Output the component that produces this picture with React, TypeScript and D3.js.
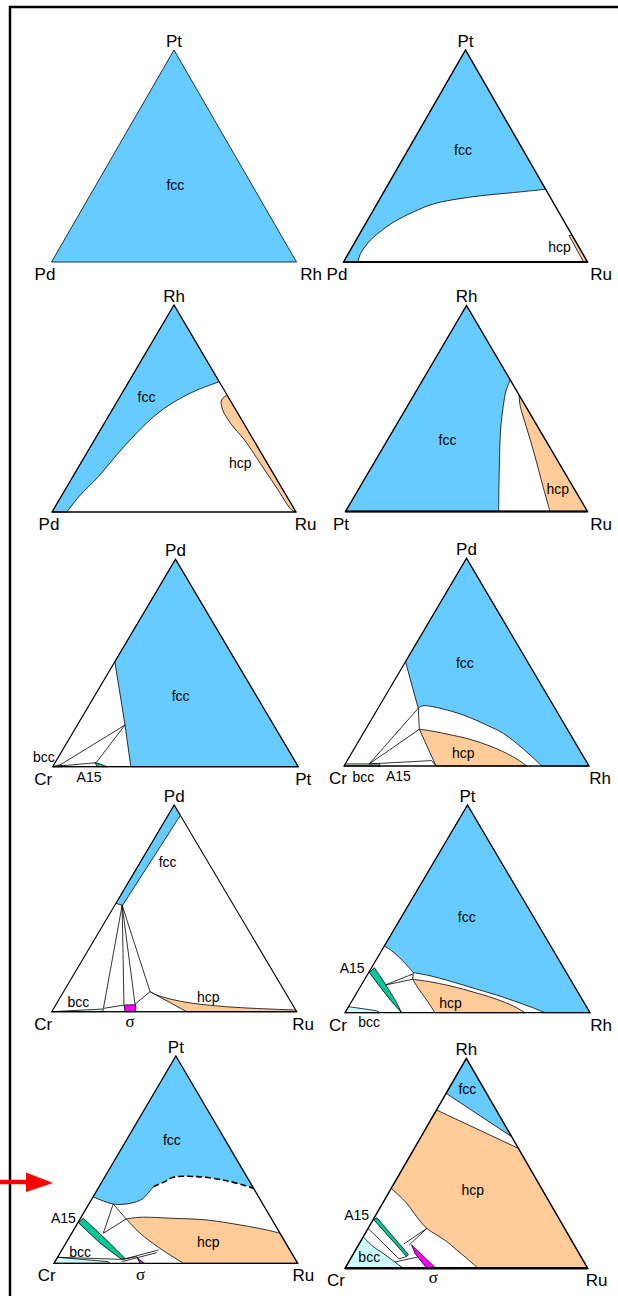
import React from "react";
import * as d3 from "d3";

// compositions are [top fraction, right fraction]; left = 1 - top - right
type TP = [number, number];
type Part = [TP[], boolean];

const FCC = "#66ccff";
const HCP = "#ffcc99";
const A15C = "#00c896";
const BCC = "#ccffff";
const SIGMA = "#ff00ff";

// vertex elements of the ten ternary sections
const topEl = ["Pt", "Pt", "Rh", "Rh", "Pd", "Pd", "Pd", "Pt", "Pt", "Rh"];
const leftEl = ["Pd", "Pd", "Pd", "Pt", "Cr", "Cr", "Cr", "Cr", "Cr", "Cr"];
const rightEl = ["Rh", "Ru", "Ru", "Ru", "Pt", "Rh", "Ru", "Rh", "Ru", "Ru"];

const tri: TP[] = [[1, 0], [0, 0], [0, 1]];

// Pd-Pt-Rh
const p1Labels: [string, TP][] = [["fcc", [0.363, 0.324]]];

// Pd-Pt-Ru
const p2FccEdge: TP[] = [[0, 0.059], [0.041, 0.05], [0.104, 0.059], [0.151, 0.084], [0.19, 0.113], [0.237, 0.17], [0.274, 0.232], [0.308, 0.377], [0.327, 0.529], [0.343, 0.657]];
const p2Hcp: TP[] = [[0.125, 0.862], [0.128, 0.872], [0, 1], [0, 0.984]];
const p2Labels: [string, TP][] = [["fcc", [0.528, 0.226]], ["hcp", [0.069, 0.851]]];

// Pd-Rh-Ru
const p3FccEdge: TP[] = [[0, 0.061], [0.074, 0.073], [0.171, 0.105], [0.284, 0.129], [0.388, 0.158], [0.477, 0.195], [0.541, 0.243], [0.589, 0.3], [0.629, 0.371]];
const p3HcpEdge: TP[] = [[0.565, 0.435], [0.541, 0.424], [0.493, 0.453], [0.428, 0.518], [0.348, 0.615], [0.235, 0.736], [0.122, 0.857], [0.01, 0.977], [0, 1]];
const p3Labels: [string, TP][] = [["fcc", [0.557, 0.109]], ["hcp", [0.238, 0.653]]];

// Pt-Rh-Ru
const p4FccEdge: TP[] = [[0, 0.633], [0.153, 0.558], [0.396, 0.443], [0.509, 0.397], [0.59, 0.369], [0.638, 0.362]];
const p4HcpEdge: TP[] = [[0.566, 0.434], [0.509, 0.468], [0.412, 0.541], [0.283, 0.638], [0.137, 0.744], [0, 0.845]];
const p4Labels: [string, TP][] = [["fcc", [0.347, 0.248]], ["hcp", [0.108, 0.823]]];

// Cr-Pd-Pt
const p5Fcc: TP[] = [[1, 0], [0, 1], [0, 0.318], [0.201, 0.194], [0.506, 0]];
const p5A15: TP[] = [[0.019, 0.163], [0.012, 0.19], [0, 0.22], [0, 0.182]];
const p5Bcc: TP[] = [[0, 0], [0.008, 0.018], [0.006, 0.035], [0, 0.04]];
const p5Ties: TP[][] = [[[0.201, 0.194], [0.003, 0.021]], [[0.201, 0.194], [0.019, 0.167]], [[0.003, 0.021], [0.019, 0.167]]];
const p5Labels: [string, TP][] = [["fcc", [0.338, 0.352]], ["bcc", [0.047, -0.059]], ["A15", [-0.05, 0.173]]];

// Cr-Pd-Rh
const p6FccEdge: TP[] = [[0, 0.807], [0.053, 0.733], [0.109, 0.65], [0.157, 0.572], [0.197, 0.484], [0.2455, 0.364], [0.278, 0.253], [0.29, 0.192], [0.289, 0.173], [0.278, 0.164]];
const p6HcpTop: TP[] = [[0.177, 0.219], [0.17, 0.266], [0.154, 0.342], [0.1285, 0.45], [0.096, 0.548], [0.061, 0.633], [0.029, 0.697], [0, 0.746]];
const p6Bcc: TP[] = [[0, 0], [0.01, 0.005], [0.01, 0.14], [0, 0.147]];
const p6Ties: TP[][] = [[[0.278, 0.164], [0.177, 0.219]], [[0.01, 0.098], [0.278, 0.164]], [[0.01, 0.098], [0.177, 0.219]], [[0.01, 0.098], [0.026, 0.345]], [[0.026, 0.345], [0, 0.3755]]];
const p6Labels: [string, TP][] = [["fcc", [0.497, 0.245]], ["hcp", [0.061, 0.456]], ["bcc", [-0.0515, 0.105]], ["A15", [-0.048, 0.246]]];

// Cr-Pd-Ru
const p7Fcc: TP[] = [[1, 0], [0.95, 0.05], [0.515, 0.032], [0.524, 0]];
const p7Fan: TP = [0.515, 0.03];
const p7FanEnds: TP[] = [[0.016, 0.203], [0.032, 0.279], [0.036, 0.322], [0.097, 0.353]];
const p7Ties: TP[][] = [[[0.016, 0.203], [0.032, 0.279]], [[0.036, 0.322], [0.097, 0.353]]];
const p7Bcc: TP[] = [[0, 0], [0.013, 0.204], [0, 0.208]];
const p7Sigma: TP[] = [[0.032, 0.28], [0.034, 0.326], [0, 0.343], [0, 0.299]];
const p7HcpTop: TP[] = [[0.097, 0.353], [0.081, 0.388], [0.048, 0.513], [0.024, 0.702], [0.008, 0.992]];
const p7Labels: [string, TP][] = [["fcc", [0.726, 0.11]], ["hcp", [0.07, 0.604]], ["bcc", [0.048, 0.085]], ["σ", [-0.045, 0.342]]];

// Cr-Pt-Rh
const p8FccEdge: TP[] = [[0, 0.816], [0.029, 0.741], [0.058, 0.658], [0.085, 0.577], [0.109, 0.496], [0.133, 0.416], [0.157, 0.336], [0.178, 0.258], [0.19, 0.198], [0.193, 0.182]];
const p8FccLeft: TP[] = [[0.193, 0.182], [0.2297, 0.137], [0.27, 0.083], [0.2985, 0.041], [0.321, 0]];
const p8HcpTop: TP[] = [[0.161, 0.196], [0.149, 0.272], [0.133, 0.348], [0.113, 0.427], [0.09, 0.506], [0.0645, 0.587], [0.032, 0.671], [0, 0.735]];
const p8HcpLeft: TP[] = [[0, 0.367], [0.061, 0.303], [0.1175, 0.24], [0.161, 0.196]];
const p8A15: TP[] = [[0.217, 0.011], [0.1415, 0.092], [0.061, 0.174], [0, 0.231], [0.053, 0.164], [0.125, 0.08], [0.193, 0.003]];
const p8Bcc: TP[] = [[0, 0], [0.029, 0], [0.0096, 0.124], [0, 0.143]];
const p8Ties: TP[][] = [[[0.193, 0.182], [0.161, 0.196]], [[0.133, 0.097], [0.186, 0.183]], [[0.133, 0.097], [0.161, 0.196]]];
const p8Labels: [string, TP][] = [["fcc", [0.462, 0.266]], ["hcp", [0.048, 0.407]], ["A15", [0.214, -0.078]], ["bcc", [-0.045, 0.121]]];

// Cr-Pt-Ru
const p9FccSolid: TP[] = [[0.321, 0], [0.286, 0.1], [0.289, 0.167], [0.309, 0.206], [0.3406, 0.217], [0.3695, 0.223]];
const p9FccDash: TP[] = [[0.3695, 0.223], [0.394, 0.258], [0.415, 0.282], [0.418, 0.377], [0.398, 0.51], [0.362, 0.638]];
const p9TieTri: TP[] = [[0.286, 0.1], [0.145, 0.13], [0.214, 0.189], [0.286, 0.1]];
const p9HcpTop: TP[] = [[0.214, 0.189], [0.222, 0.242], [0.217, 0.381], [0.209, 0.522], [0.185, 0.671], [0.161, 0.792], [0.145, 0.855]];
const p9HcpLeft: TP[] = [[0, 0.531], [0.072, 0.399], [0.1447, 0.281], [0.214, 0.189]];
const p9A15: TP[] = [[0.196, 0.002], [0.217, 0.012], [0.112, 0.16], [0.024, 0.279], [0.019, 0.268], [0.0965, 0.141]];
const p9Bcc: TP[] = [[0, 0], [0.029, 0], [0.008, 0.219], [0, 0.23]];
const p9Sigma: TP[] = [[0.032, 0.323], [0, 0.369], [0, 0.353]];
const p9Ties: TP[][] = [[[0.029, 0], [0.019, 0.268]], [[0.019, 0.275], [0.064, 0.396]], [[0.008, 0.274], [0.051, 0.396]], [[0.019, 0.268], [0.032, 0.323]]];
const p9Labels: [string, TP][] = [["fcc", [0.595, 0.186]], ["hcp", [0.104, 0.581]], ["bcc", [0.056, 0.079]], ["A15", [0.217, -0.07]], ["σ", [-0.05, 0.38]]];

// Cr-Rh-Ru
const p10Fcc: TP[] = [[1, 0], [0.833, 0], [0.627, 0.373]];
const p10Hcp: TP[] = [[0.754, 0], [0.571, 0.429], [0, 1], [0, 0.549]];
const p10HcpEdge: TP[] = [[0, 0.549], [0.048, 0.477], [0.087, 0.417], [0.127, 0.356], [0.159, 0.298], [0.19, 0.242], [0.246, 0.172], [0.31, 0.099], [0.381, 0]];
const p10A15: TP[] = [[0.232, 0.002], [0.24, 0.012], [0.066, 0.228], [0.056, 0.226]];
const p10Sigma: TP[] = [[0.111, 0.219], [0, 0.375], [0, 0.337], [0.071, 0.253]];
const p10BccEdge: TP[] = [[0.15, 0], [0.103, 0.065], [0.071, 0.122], [0, 0.24]];
const p10Ties: TP[][] = [[[0.19, 0.242], [0.116, 0.185]], [[0.19, 0.242], [0.111, 0.209]], [[0.19, 0], [0.045, 0.2]], [[0.045, 0.2], [0.056, 0.226]], [[0.03, 0.191], [0.054, 0.275]]];
const p10Labels: [string, TP][] = [["fcc", [0.852, 0.078]], ["hcp", [0.373, 0.34]], ["bcc", [0.052, 0.074]], ["A15", [0.254, -0.079]], ["σ", [-0.043, 0.385]]];

// where each section sits on the page
const layout = [
  { x: 51.5, y: 262, w: 245, h: 212, ldx: -6.5, rdx: 14.5, edge: 0.8, base: 0.8 },
  { x: 343.5, y: 262, w: 244, h: 212, ldx: -6.5, rdx: 13.5, edge: 1.4, base: 2.2 },
  { x: 52, y: 512, w: 244, h: 207, ldx: -3, rdx: 9.5, edge: 1.2, base: 1 },
  { x: 345.5, y: 511.5, w: 242, h: 206, ldx: -4.5, rdx: 13.5, edge: 1.3, base: 2.2 },
  { x: 52.7, y: 766.7, w: 245.6, h: 207.4, ldx: -9.4, rdx: 5, edge: 1.2, base: 1 },
  { x: 344, y: 766, w: 245, h: 207.7, ldx: -6, rdx: 11, edge: 1.2, base: 1 },
  { x: 51.7, y: 1011.7, w: 245, h: 206.7, ldx: -8.4, rdx: 6.3, edge: 1.1, base: 1 },
  { x: 345, y: 1012.7, w: 245, h: 207.7, ldx: -7, rdx: 11, edge: 1.2, base: 1.2 },
  { x: 54, y: 1263.3, w: 243.7, h: 207.3, ldx: -7.3, rdx: 5.6, edge: 1.3, base: 1.3 },
  { x: 345, y: 1268.3, w: 242.7, h: 210, ldx: -9, rdx: 9, edge: 1.4, base: 2.4 },
];

type Region = { fill: string; parts: Part[]; stroke?: boolean };
type Line = { parts: Part[]; dash?: boolean };

const line2 = (a: TP[]): Line => ({ parts: [[a, false]] });

const sections: { regions: Region[]; lines: Line[]; labels: [string, TP][] }[] = [
  { regions: [{ fill: FCC, parts: [[tri, false]], stroke: false }], lines: [], labels: p1Labels },
  {
    regions: [
      { fill: FCC, parts: [[[[1, 0], [0, 0]], false], [p2FccEdge, true]] },
      { fill: HCP, parts: [[p2Hcp, false]] },
    ],
    lines: [],
    labels: p2Labels,
  },
  {
    regions: [
      { fill: FCC, parts: [[[[1, 0], [0, 0]], false], [p3FccEdge, true]] },
      { fill: HCP, parts: [[p3HcpEdge, true]] },
    ],
    lines: [],
    labels: p3Labels,
  },
  {
    regions: [
      { fill: FCC, parts: [[[[1, 0], [0, 0]], false], [p4FccEdge, true]] },
      { fill: HCP, parts: [[p4HcpEdge, true], [[[0, 0.845], [0, 1]], false]] },
    ],
    lines: [],
    labels: p4Labels,
  },
  {
    regions: [
      { fill: FCC, parts: [[p5Fcc, false]] },
      { fill: A15C, parts: [[p5A15, false]] },
      { fill: "#99e6b3", parts: [[p5Bcc, false]] },
    ],
    lines: p5Ties.map(line2),
    labels: p5Labels,
  },
  {
    regions: [
      { fill: FCC, parts: [[[[1, 0], [0, 1], [0, 0.807]], false], [p6FccEdge, true], [[[0.278, 0.164], [0.502, 0]], false]] },
      { fill: HCP, parts: [[p6HcpTop, true], [[[0, 0.746], [0, 0.3755]], false]] },
      { fill: "#ccf2cc", parts: [[p6Bcc, false]] },
    ],
    lines: p6Ties.map(line2),
    labels: p6Labels,
  },
  {
    regions: [
      { fill: FCC, parts: [[p7Fcc, false]] },
      { fill: BCC, parts: [[p7Bcc, false]] },
      { fill: SIGMA, parts: [[p7Sigma, false]] },
      { fill: HCP, parts: [[p7HcpTop, true], [[[0.008, 0.992], [0, 1], [0, 0.551]], false]] },
    ],
    lines: [...p7FanEnds.map((e) => line2([p7Fan, e])), ...p7Ties.map(line2)],
    labels: p7Labels,
  },
  {
    regions: [
      { fill: FCC, parts: [[[[1, 0], [0, 1], [0, 0.816]], false], [p8FccEdge, true], [p8FccLeft, true]] },
      { fill: HCP, parts: [[p8HcpTop, true], [[[0, 0.735], [0, 0.367]], false], [p8HcpLeft, true]] },
      { fill: A15C, parts: [[p8A15, false]] },
      { fill: BCC, parts: [[p8Bcc, false]] },
    ],
    lines: p8Ties.map(line2),
    labels: p8Labels,
  },
  {
    regions: [
      { fill: FCC, parts: [[[[1, 0], [0.321, 0]], false], [p9FccSolid, true], [p9FccDash, true]], stroke: false },
      { fill: HCP, parts: [[p9HcpTop, true], [[[0.145, 0.855], [0, 1], [0, 0.531]], false], [p9HcpLeft, true]] },
      { fill: A15C, parts: [[p9A15, false]] },
      { fill: BCC, parts: [[p9Bcc, false]] },
      { fill: SIGMA, parts: [[p9Sigma, false]] },
    ],
    lines: [
      { parts: [[p9FccSolid, true]] },
      { parts: [[p9FccDash, true]], dash: true },
      line2(p9TieTri),
      ...p9Ties.map(line2),
    ],
    labels: p9Labels,
  },
  {
    regions: [
      { fill: FCC, parts: [[p10Fcc, false]] },
      { fill: HCP, parts: [[p10Hcp, false], [p10HcpEdge, true]] },
      { fill: BCC, parts: [[[[0, 0], [0.15, 0]], false], [p10BccEdge, true]] },
      { fill: A15C, parts: [[p10A15, false]] },
      { fill: SIGMA, parts: [[p10Sigma, false]] },
    ],
    lines: p10Ties.map(line2),
    labels: p10Labels,
  },
];

const sans = "'Liberation Sans', Arial, Helvetica, sans-serif";
const serif = "'Liberation Serif', 'Times New Roman', serif";

function Section({ idx }: { idx: number }) {
  const L = layout[idx];
  const sec = sections[idx];
  const xs = d3.scaleLinear().domain([0, 1]).range([L.x, L.x + L.w]);
  const ys = d3.scaleLinear().domain([0, 1]).range([L.y, L.y - L.h]);
  const px = (p: TP) => xs(p[1] + p[0] / 2);
  const py = (p: TP) => ys(p[0]);

  const build = (parts: Part[], closed: boolean) =>
    parts
      .map(([pts, smooth], i) => {
        const g = d3
          .line<TP>()
          .x(px)
          .y(py)
          .curve(smooth ? d3.curveCatmullRom.alpha(0.5) : d3.curveLinear);
        const s = g(pts) || "";
        return i === 0 ? s : "L" + s.slice(1);
      })
      .join("") + (closed ? "Z" : "");

  const outline = d3.line<TP>().x(px).y(py).curve(d3.curveLinearClosed)(tri) || "";
  const base = d3.line<TP>().x(px).y(py)([[0, 0], [0, 1]]) || "";

  return (
    <g>
      {sec.regions.map((r, i) => (
        <path
          key={"r" + i}
          d={build(r.parts, true)}
          fill={r.fill}
          stroke={r.stroke === false ? "none" : "#000"}
          strokeWidth={0.8}
          strokeLinejoin="round"
        />
      ))}
      {sec.lines.map((l, i) => (
        <path
          key={"l" + i}
          d={build(l.parts, false)}
          fill="none"
          stroke="#000"
          strokeWidth={l.dash ? 1.6 : 0.8}
          strokeDasharray={l.dash ? "6,3" : undefined}
        />
      ))}
      <path d={outline} fill="none" stroke="#000" strokeWidth={L.edge} strokeLinejoin="miter" />
      {L.base !== L.edge && <path d={base} fill="none" stroke="#000" strokeWidth={L.base} />}
      <text x={px([1, 0])} y={py([1, 0]) - 3.5} textAnchor="middle" fontSize={17} fontFamily={sans}>
        {topEl[idx]}
      </text>
      <text x={px([0, 0]) + L.ldx} y={py([0, 0]) + 18} textAnchor="middle" fontSize={17} fontFamily={sans}>
        {leftEl[idx]}
      </text>
      <text x={px([0, 1]) + L.rdx} y={py([0, 1]) + 18} textAnchor="middle" fontSize={17} fontFamily={sans}>
        {rightEl[idx]}
      </text>
      {sec.labels.map(([t, p], i) => (
        <text
          key={"t" + i}
          x={px(p)}
          y={py(p)}
          dy="0.35em"
          textAnchor="middle"
          fontSize={t === "σ" ? 17 : 14}
          fontFamily={t === "σ" ? serif : sans}
        >
          {t}
        </text>
      ))}
    </g>
  );
}

export default function App() {
  return (
    <svg
      width={618}
      height={1296}
      style={{ position: "absolute", left: 0, top: 0, background: "#fff" }}
    >
      <rect width={618} height={1296} fill="#fff" />
      {/* frame */}
      <line x1={10} y1={7} x2={618} y2={7} stroke="#000" strokeWidth={2.5} />
      <line x1={10} y1={5.8} x2={10} y2={1296} stroke="#000" strokeWidth={2.5} />
      {layout.map((_, i) => (
        <Section key={i} idx={i} />
      ))}
      {/* red arrow pointing at the dashed boundary */}
      <line x1={0} y1={1182} x2={30} y2={1182} stroke="#ff0000" strokeWidth={4.5} />
      <path d="M26,1172.5L53,1183L26,1192Z" fill="#ff0000" />
    </svg>
  );
}
